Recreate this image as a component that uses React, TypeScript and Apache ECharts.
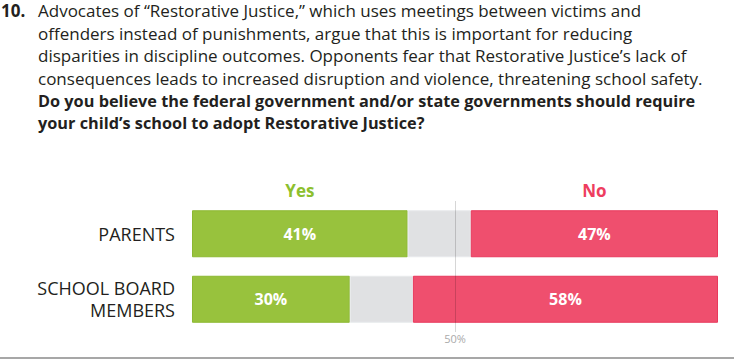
import React, { useEffect, useRef } from 'react';
import * as echarts from 'echarts';

const categories = ['PARENTS', 'SCHOOL BOARD\nMEMBERS'];
const yesValues = [41, 30];
const unsureValues = [12, 12];
const noValues = [47, 58];
const referenceTick = 50;
const questionNumber = '10.';
const bodyLines = [
  'Advocates of \u201cRestorative Justice,\u201d which uses meetings between victims and',
  'offenders instead of punishments, argue that this is important for reducing',
  'disparities in discipline outcomes. Opponents fear that Restorative Justice\u2019s lack of',
  'consequences leads to increased disruption and violence, threatening school safety.',
];
const boldLines = [
  'Do you believe the federal government and/or state governments should require',
  'your child\u2019s school to adopt Restorative Justice?',
];

const FONT = '"Open Sans", "Noto Sans", sans-serif';
const GREEN = '#98c23d';
const PINK = '#ef4f6e';

export default function App() {
  const ref = useRef<HTMLDivElement>(null);
  useEffect(() => {
    if (!ref.current) return;
    const chart = echarts.init(ref.current, undefined, { renderer: 'svg' });
    const lineH = 22.5;
    const firstY = 10.5;
    const textEls: any[] = [];
    textEls.push({
      type: 'text', x: 1, y: firstY,
      style: { text: questionNumber, fontFamily: FONT, fontSize: 17, fontWeight: 'bold', fill: '#231f20', verticalAlign: 'middle' },
    });
    bodyLines.forEach((t, i) => {
      textEls.push({
        type: 'text', x: 38, y: firstY + i * lineH,
        style: { text: t, fontFamily: FONT, fontSize: 17, fill: '#231f20', verticalAlign: 'middle' },
      });
    });
    boldLines.forEach((t, i) => {
      textEls.push({
        type: 'text', x: 38, y: firstY + (bodyLines.length + i) * lineH,
        style: { text: t, fontFamily: FONT, fontSize: 16.3, fontWeight: 'bold', fill: '#231f20', verticalAlign: 'middle' },
      });
    });
    textEls.push({
      type: 'rect', shape: { x: 0, y: 357, width: 734, height: 2 }, style: { fill: '#a7a7a7' },
    });

    const valueLabel = {
      show: true, position: 'inside', formatter: '{c}%', color: '#ffffff',
      fontFamily: FONT, fontWeight: 'bold', fontSize: 16,
    };

    chart.setOption({
      animation: false,
      grid: { left: 192, right: 16, top: 201, height: 131, containLabel: false },
      xAxis: {
        type: 'value', min: 0, max: 100, interval: 50,
        axisLine: { show: false }, axisTick: { show: false }, splitLine: { show: false },
        axisLabel: {
          margin: 1, color: '#aaaaaa', fontFamily: FONT, fontSize: 11,
          formatter: (v: number) => (v === referenceTick ? referenceTick + '%' : ''),
        },
      },
      yAxis: {
        type: 'category', inverse: true, data: categories,
        axisLine: { show: false }, axisTick: { show: false },
        axisLabel: { margin: 17, color: '#231f20', fontFamily: FONT, fontSize: 18, lineHeight: 22, align: 'right' },
      },
      series: [
        {
          name: 'Yes', type: 'bar', stack: 'all', data: yesValues, barWidth: 47,
          itemStyle: { color: GREEN, borderColor: '#8cb832', borderWidth: 1 },
          label: valueLabel,
        },
        {
          name: 'Unsure', type: 'bar', stack: 'all', data: unsureValues, barWidth: 47,
          itemStyle: { color: '#e0e1e3', borderColor: '#e8eaec', borderWidth: 1 },
        },
        {
          name: 'No', type: 'bar', stack: 'all', data: noValues, barWidth: 47,
          itemStyle: { color: PINK, borderColor: '#e8395c', borderWidth: 1 },
          label: valueLabel,
          markLine: {
            silent: true, symbol: 'none', label: { show: false },
            lineStyle: { color: 'rgba(0,0,0,0.16)', width: 1, type: 'solid' },
            data: [{ xAxis: referenceTick }],
          },
        },
      ],
      graphic: textEls,
    });

    const yesX = chart.convertToPixel({ xAxisIndex: 0 }, yesValues[0] / 2) as number;
    const noX = chart.convertToPixel({ xAxisIndex: 0 }, 100 - noValues[0] / 2) as number;
    const headerY = 190;
    chart.setOption({
      graphic: [
        ...textEls,
        {
          type: 'text', x: yesX, y: headerY,
          style: { text: 'Yes', fontFamily: FONT, fontSize: 17, fontWeight: 'bold', fill: '#8dbf2e', align: 'center', verticalAlign: 'middle' },
        },
        {
          type: 'text', x: noX, y: headerY,
          style: { text: 'No', fontFamily: FONT, fontSize: 17, fontWeight: 'bold', fill: '#ee3d60', align: 'center', verticalAlign: 'middle' },
        },
      ],
    });

    return () => chart.dispose();
  }, []);
  return <div ref={ref} style={{ position: 'fixed', left: 0, top: 0, width: 734, height: 359, background: '#fff' }} />;
}
